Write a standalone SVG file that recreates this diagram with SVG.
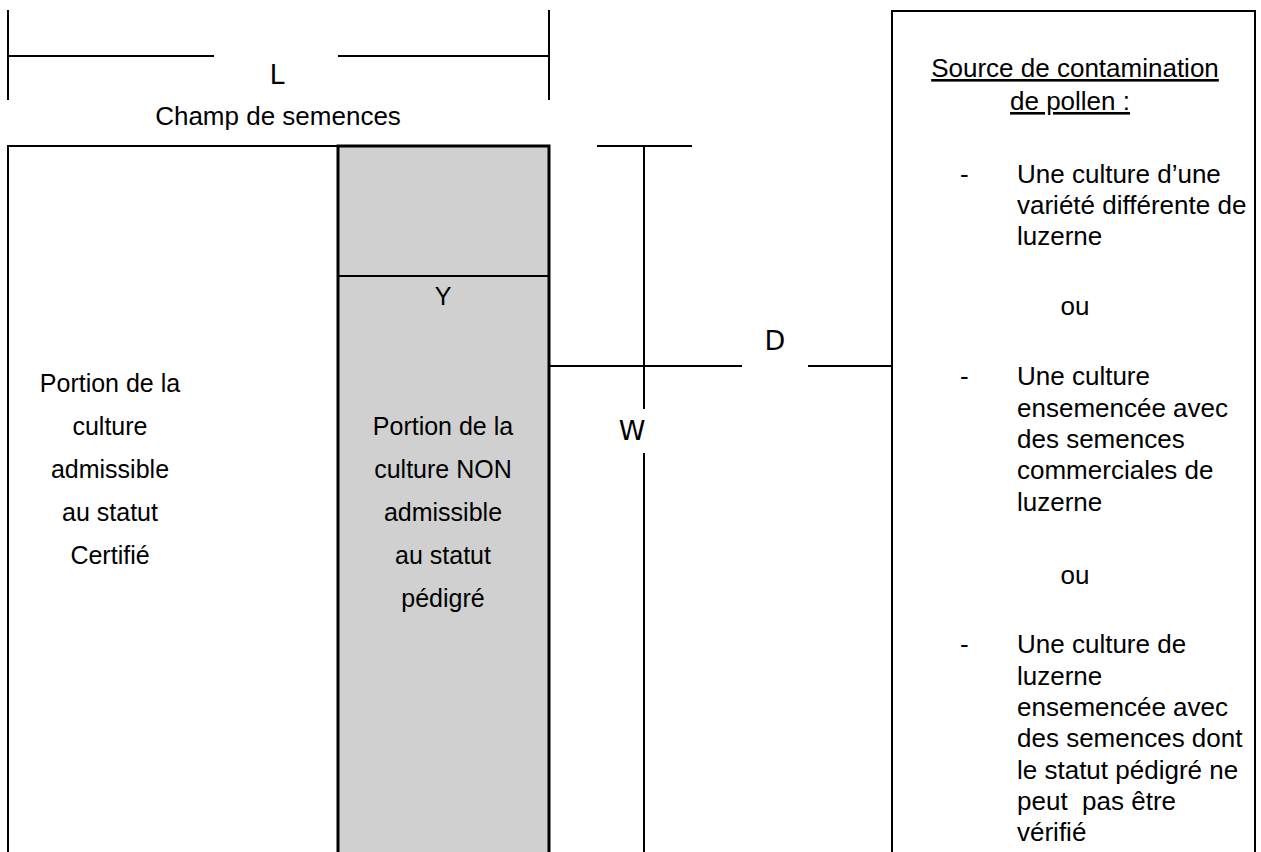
<svg xmlns="http://www.w3.org/2000/svg" width="1261" height="852" viewBox="0 0 1261 852">
<style>
.ln{stroke:#000;stroke-width:2;fill:none}
.thk{stroke:#000;stroke-width:3;fill:none}
.t{font-family:"Liberation Sans",Arial,sans-serif;font-size:25px;fill:#000}
.tc{text-anchor:middle}
.r{font-family:"Liberation Sans",Arial,sans-serif;font-size:26px;fill:#000}
.big{font-family:"DejaVu Sans","Liberation Sans",sans-serif;font-size:27px;fill:#000;text-anchor:middle}
.u{text-decoration:underline}
</style>
<rect x="0" y="0" width="1261" height="852" fill="#fff"/>
<g id="seed-field">
<line class="ln" x1="8" y1="146" x2="338" y2="146"/>
<line class="ln" x1="8" y1="145" x2="8" y2="852"/>
<text class="t tc" x="110" y="392">Portion de la</text>
<text class="t tc" x="110" y="435">culture</text>
<text class="t tc" x="110" y="478">admissible</text>
<text class="t tc" x="110" y="521">au statut</text>
<text class="t tc" x="110" y="564">Certifié</text>
</g>
<g id="non-eligible">
<path d="M338,852 V146 H549 V852" fill="#d0d0d0" stroke="#000" stroke-width="3"/>
<line class="ln" x1="338" y1="276" x2="549" y2="276"/>
<text class="t tc" x="443" y="305">Y</text>
<text class="t tc" x="443" y="435">Portion de la</text>
<text class="t tc" x="443" y="478">culture NON</text>
<text class="t tc" x="443" y="521">admissible</text>
<text class="t tc" x="443" y="564">au statut</text>
<text class="t tc" x="443" y="607">pédigré</text>
</g>
<g id="source">
<path class="ln" d="M892,852 V11 H1255 V852"/>
<text class="r tc u" x="1075" y="77">Source de contamination</text>
<text class="r tc u" x="1070" y="110">de pollen :</text>
<text class="r" x="960" y="183">-</text>
<text class="r" x="1017" y="183">Une culture d’une</text>
<text class="r" x="1017" y="214">variété différente de</text>
<text class="r" x="1017" y="245">luzerne</text>
<text class="r tc" x="1075" y="315">ou</text>
<text class="r" x="960" y="385">-</text>
<text class="r" x="1017" y="385">Une culture</text>
<text class="r" x="1017" y="417">ensemencée avec</text>
<text class="r" x="1017" y="448">des semences</text>
<text class="r" x="1017" y="479">commerciales de</text>
<text class="r" x="1017" y="511">luzerne</text>
<text class="r tc" x="1075" y="584">ou</text>
<text class="r" x="960" y="653">-</text>
<text class="r" x="1017" y="653">Une culture de</text>
<text class="r" x="1017" y="685">luzerne</text>
<text class="r" x="1017" y="716">ensemencée avec</text>
<text class="r" x="1017" y="747">des semences dont</text>
<text class="r" x="1017" y="779">le statut pédigré ne</text>
<text class="r" x="1017" y="810" xml:space="preserve">peut  pas être</text>
<text class="r" x="1017" y="841">vérifié</text>
</g>
<g id="connectors">
<line class="ln" x1="8" y1="10" x2="8" y2="100"/>
<line class="ln" x1="549" y1="10" x2="549" y2="100"/>
<line class="ln" x1="8" y1="56" x2="214" y2="56"/>
<line class="ln" x1="338" y1="56" x2="549" y2="56"/>
<text class="big" x="277" y="84">L</text>
<text class="r tc" x="278" y="125">Champ de semences</text>
<line class="ln" x1="597" y1="146" x2="692" y2="146"/>
<line class="ln" x1="644" y1="146" x2="644" y2="409"/>
<line class="ln" x1="644" y1="453" x2="644" y2="852"/>
<text class="big" x="632" y="440">W</text>
<line class="ln" x1="550" y1="366" x2="742" y2="366"/>
<line class="ln" x1="808" y1="366" x2="892" y2="366"/>
<text class="big" x="775" y="350">D</text>
</g>
</svg>
